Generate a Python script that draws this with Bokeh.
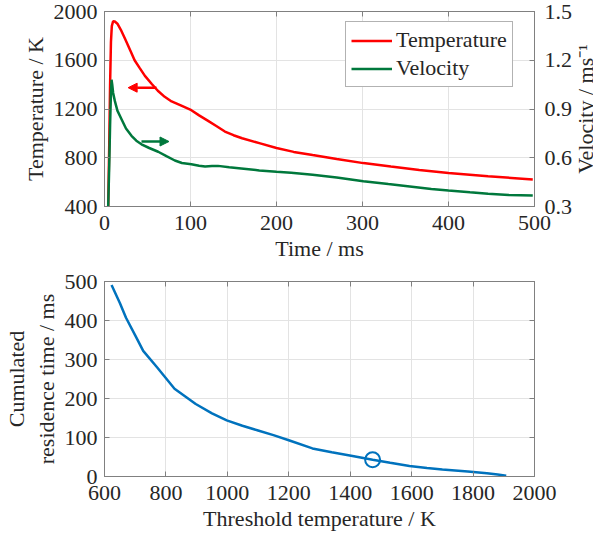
import math
import numpy as np
from bokeh.plotting import figure
from bokeh.layouts import column
from bokeh.models import (Range1d, LinearAxis, Legend, LegendItem, Arrow, NormalHead,
                          FixedTicker, CustomJSTickFormatter, Label)
from bokeh.embed import file_html
from bokeh.resources import INLINE

# ---------------- data ----------------
time_ms = [4.3, 5.5, 6.5, 7.5, 8.5, 10, 12, 15, 19, 24, 30, 35, 41, 47, 55, 62, 70, 78,
           90, 101, 110, 120, 130, 140, 150, 160, 180, 200, 220, 242, 270, 301, 333, 366,
           400, 446, 498]
temperature_K = [400, 900, 1400, 1750, 1880, 1920, 1918, 1900, 1850, 1775, 1680, 1600, 1535,
                 1472, 1405, 1350, 1300, 1262, 1225, 1190, 1148, 1105, 1060, 1015, 985, 960,
                 920, 880, 848, 822, 790, 756, 728, 700, 675, 648, 622]

vel_time_ms = [4.3, 5.5, 6.5, 7.5, 8.2, 9, 10, 12, 15, 19.8, 25, 31.4, 37, 43, 52, 62.4, 72,
               81.8, 90, 101, 110, 117, 125, 132, 145, 159, 180, 200, 217, 242, 270, 301,
               330, 355, 380, 400, 425, 446, 470, 498]
velocity_ms = [0.30, 0.55, 0.80, 1.00, 1.08, 1.05, 1.00, 0.95, 0.89, 0.837, 0.78, 0.735, 0.705,
               0.683, 0.66, 0.637, 0.61, 0.583, 0.568, 0.560, 0.551, 0.546, 0.549, 0.550, 0.542,
               0.534, 0.522, 0.514, 0.508, 0.496, 0.478, 0.456, 0.438, 0.423, 0.408, 0.398,
               0.387, 0.378, 0.371, 0.367]

threshold_K = [623, 650, 670, 700, 726, 771, 828, 897, 950, 998, 1049, 1100, 1150, 1200, 1277,
               1340, 1403, 1473, 1530, 1593, 1650, 1700, 1783, 1845, 1880, 1908]
residence_ms = [491, 445, 407, 362, 322, 280, 225, 186, 162, 144, 130, 118, 106, 93, 72, 62,
                53, 43, 35, 27, 22, 18, 13, 8.5, 5, 2]

marker_K = [1473]
marker_ms = [43]

# arrows (data coordinates)
temp_arrow_t = [60.5, 27.5]
temp_arrow_T = [1375, 1375]
vel_arrow_t = [43, 75]
vel_arrow_v = [0.70, 0.70]

top_x_ticks = [0, 100, 200, 300, 400, 500]
top_y_ticks = [400, 800, 1200, 1600, 2000]
vel_ticks = [0.3, 0.6, 0.9, 1.2, 1.5]
bot_x_ticks = [600, 800, 1000, 1200, 1400, 1600, 1800, 2000]
bot_y_ticks = [0, 100, 200, 300, 400, 500]

# ---------------- style ----------------
FONT = "'Liberation Serif', 'Times New Roman', serif"
FS = "22px"
TXT = "#262626"
AX = "#808080"
GRID = "#e3e3e3"
RED = "#FF0000"
GREEN = "#00783C"
BLUE = "#0072BD"


def style_axis(ax, standoff=9):
    ax.axis_line_color = AX
    ax.major_tick_line_color = AX
    ax.major_tick_in = 5
    ax.major_tick_out = 0
    ax.minor_tick_line_color = None
    ax.major_label_text_font = FONT
    ax.major_label_text_font_size = FS
    ax.major_label_text_color = TXT
    ax.major_label_standoff = standoff
    ax.axis_label_text_font = FONT
    ax.axis_label_text_font_size = FS
    ax.axis_label_text_font_style = "normal"
    ax.axis_label_text_color = TXT
    ax.axis_label_standoff = 3


def blank_axis(ticks, **kw):
    ax = LinearAxis(ticker=FixedTicker(ticks=ticks),
                    formatter=CustomJSTickFormatter(code="return ''"), **kw)
    ax.axis_line_color = AX
    ax.major_tick_line_color = AX
    ax.major_tick_in = 5
    ax.major_tick_out = 0
    ax.minor_tick_line_color = None
    ax.major_label_standoff = 0
    ax.major_label_text_font_size = "1px"
    return ax


def base_fig(xr, yr, mb):
    p = figure(frame_width=430, frame_height=195, x_range=xr, y_range=yr,
               output_backend="svg", toolbar_location=None,
               min_border_left=mb[0], min_border_right=mb[1],
               min_border_top=mb[2], min_border_bottom=mb[3])
    p.outline_line_color = AX
    p.background_fill_color = "white"
    p.border_fill_color = "white"
    for g in (p.xgrid[0], p.ygrid[0]):
        g.grid_line_color = GRID
        g.grid_line_width = 1
    return p


# ---------------- top plot ----------------
p1 = base_fig(Range1d(0, 500), Range1d(400, 2000), (95, 68, 11, 62))
p1.extra_y_ranges = {"vel": Range1d(0.3, 1.5)}
p1.xaxis.ticker = FixedTicker(ticks=top_x_ticks)
p1.yaxis.ticker = FixedTicker(ticks=top_y_ticks)
p1.xaxis.axis_label = "Time / ms"
p1.yaxis.axis_label = "Temperature / K"
style_axis(p1.xaxis[0], 9)
style_axis(p1.yaxis[0], 7)

rax = LinearAxis(y_range_name="vel", ticker=FixedTicker(ticks=vel_ticks))
style_axis(rax, 10)
p1.add_layout(rax, "right")
p1.add_layout(blank_axis(top_x_ticks), "above")

# right-axis title, reading bottom-to-top as in the reference (placed in the right panel)
p1.add_layout(Label(x=10, y=97.5, x_units="screen", y_units="screen",
                    text="Velocity / ms\u207B\u00B9", angle=math.pi / 2,
                    text_align="center", text_baseline="middle",
                    text_font=FONT, text_font_size=FS, text_color=TXT), "right")

r_t = p1.line(time_ms, temperature_K, line_color=RED, line_width=2.5)
r_v = p1.line(vel_time_ms, velocity_ms, line_color=GREEN, line_width=2.5, y_range_name="vel")

p1.add_layout(Arrow(end=NormalHead(size=9, fill_color=RED, line_color=RED),
                    x_start=temp_arrow_t[0], y_start=temp_arrow_T[0],
                    x_end=temp_arrow_t[1], y_end=temp_arrow_T[1],
                    line_color=RED, line_width=2.5))
p1.add_layout(Arrow(end=NormalHead(size=9, fill_color=GREEN, line_color=GREEN),
                    x_start=vel_arrow_t[0], y_start=vel_arrow_v[0],
                    x_end=vel_arrow_t[1], y_end=vel_arrow_v[1],
                    line_color=GREEN, line_width=2.5, y_range_name="vel"))

legend = Legend(items=[LegendItem(label="Temperature", renderers=[r_t]),
                       LegendItem(label="Velocity", renderers=[r_v])],
                location=(241, 119))
legend.label_text_font = FONT
legend.label_text_font_size = FS
legend.label_text_color = TXT
legend.glyph_width = 41
legend.label_standoff = 4
legend.padding = 5
legend.spacing = 2
legend.margin = 0
legend.label_height = 25
legend.glyph_height = 25
legend.border_line_color = "#666666"
legend.border_line_width = 1
legend.background_fill_alpha = 1
p1.add_layout(legend)

# ---------------- bottom plot ----------------
p2 = base_fig(Range1d(600, 2000), Range1d(0, 500), (95, 68, 13, 50))
p2.xaxis.ticker = FixedTicker(ticks=bot_x_ticks)
p2.yaxis.ticker = FixedTicker(ticks=bot_y_ticks)
p2.xaxis.axis_label = "Threshold temperature / K"
p2.yaxis.axis_label = "Cumulated\nresidence time / ms"
style_axis(p2.xaxis[0], 9)
style_axis(p2.yaxis[0], 7)
p2.add_layout(blank_axis(bot_x_ticks), "above")
p2.add_layout(blank_axis(bot_y_ticks), "right")

p2.line(threshold_K, residence_ms, line_color=BLUE, line_width=2.5)
p2.scatter(marker_K, marker_ms, marker="circle", size=15, fill_color=None,
           line_color=BLUE, line_width=2)

layout = column(p1, p2, spacing=0)
open("out.html", "w").write(file_html(layout, INLINE))
